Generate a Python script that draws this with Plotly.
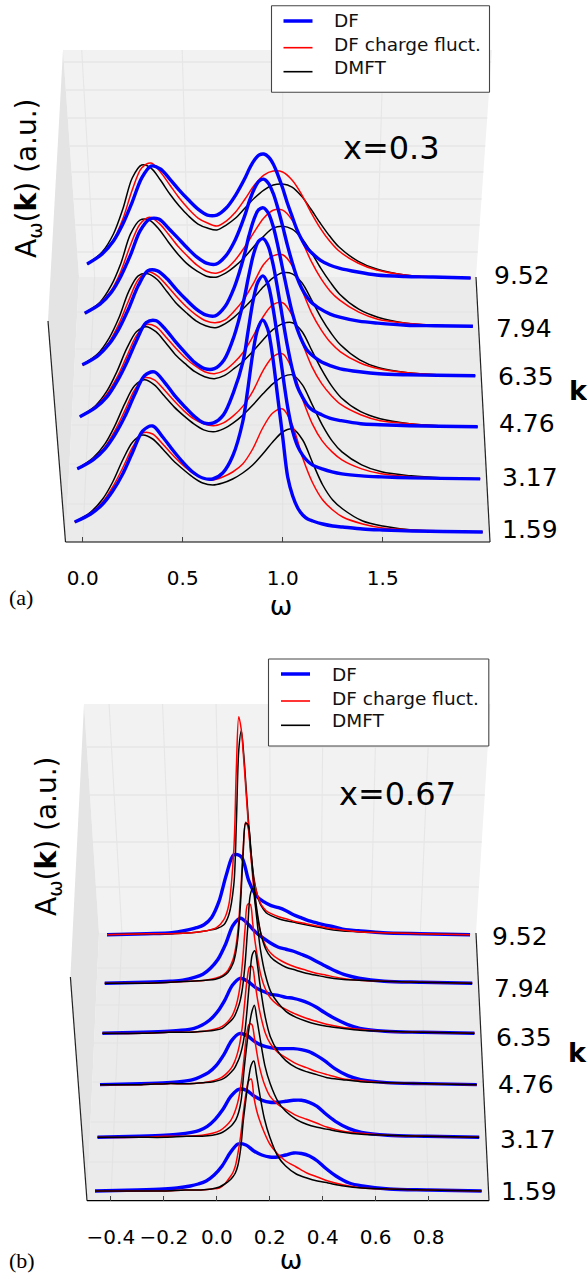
import plotly.graph_objects as go

K_VALUES = [1.59, 3.17, 4.76, 6.35, 7.94, 9.52]
K_LABELS = ["1.59", "3.17", "4.76", "6.35", "7.94", "9.52"]

OMEGA_A = [-0.04, 0.04, 0.1, 0.15, 0.2, 0.25, 0.3, 0.35, 0.4, 0.45, 0.5, 0.55,
           0.6, 0.65, 0.7, 0.75, 0.8, 0.85, 0.9, 0.95, 1.0, 1.05, 1.1, 1.15, 1.2, 1.25, 1.3, 1.4, 1.5, 1.65, 1.8, 2.0]
OMEGA_A_DF = [-0.04, 0.04, 0.1, 0.15, 0.2, 0.25, 0.3, 0.35, 0.4, 0.45, 0.5, 0.55, 0.6, 0.65, 0.7, 0.75,
              0.8, 0.825, 0.85, 0.875, 0.9, 0.925, 0.95, 0.975, 1.0, 1.025, 1.05, 1.075, 1.1, 1.125, 1.15, 1.2, 1.25,
              1.3, 1.4, 1.5, 1.65, 1.8, 2.0]

DF_A_159 = [10,18,28,41,58,80,101,106,95,82,70,60,54,53,59,76, 110,142,178,203,212,203,175,135,95,55,36,24,17,13,11,8,6,5,3,2,1,0.5,0]
DF_A_317 = [10,19,30,44,62,84,103,107,97,84,73,63,56,56,64,86, 118,148,178,197,203,195,172,140,105,72,48,33,24,18,14,10,7,5,3,2,1,0.5,0]
DF_A_476 = [10,19,30,45,64,86,104,106,97,85,74,64,58,58,67,90, 126,150,172,185,188,181,163,137,108,80,57,40,30,22,17,12,8,6,3,2,1,0.5,0]
DF_A_635 = [11,20,32,47,67,90,105,105,97,86,76,67,61,60,69,89, 120,140,156,166,168,163,150,130,107,84,63,47,35,26,21,14,10,7,4,2,1,0.5,0]
DF_A_794 = [13,22,34,50,71,95,107,107,98,88,78,69,63,62,70,86, 110,125,137,145,147,143,133,118,100,81,64,49,38,30,24,17,12,9,5,3,1,0.5,0]
DF_A_952 = [14,24,37,54,76,100,112,109,99,88,78,69,63,63,70,83, 100,110,118,123,124,121,114,103,90,75,62,49,39,31,26,18,13,10,6,3,1.5,1,0]

CF_A_159 = [10,19,30,45,64,85,99,98,88,77,67,59, 54,52,55,60,68,83,104,119,123,106,74,49,32,22,15,8,4,2,1,0]
CF_A_317 = [10,20,32,48,68,89,101,99,89,78,68,60, 55,53,56,63,73,88,108,122,125,109,80,55,38,27,19,10,5,2,1,0]
CF_A_476 = [10,20,33,49,70,91,102,100,90,79,69,61, 55,53,56,64,75,91,110,122,124,111,84,60,43,31,22,12,6,3,1,0]
CF_A_635 = [11,21,34,52,75,96,104,100,90,79,69,61, 55,53,56,65,77,93,111,120,121,110,86,63,46,33,24,13,7,3,1,0]
CF_A_794 = [13,23,36,55,81,102,109,103,92,80,70,61, 55,53,57,66,79,94,108,116,116,106,86,65,48,35,26,14,7,3,1,0]
CF_A_952 = [14,24,38,59,88,110,115,106,93,80,69,60, 55,52,57,66,79,93,103,107,106,98,84,66,50,37,27,15,8,3,1,0]

DMFT_A_159 = [10,20,33,50,72,90,97,93,83,72,63,55, 49,47,49,53,59,67,78,90,100,103,92,69,47,32,23,11,6,2,1,0]
DMFT_A_317 = [10,21,35,53,75,93,99,94,83,72,63,55, 49,47,50,56,64,74,85,95,102,104,94,74,54,38,27,14,7,3,1,0]
DMFT_A_476 = [10,21,36,55,78,95,100,95,84,72,63,55, 50,48,51,58,66,76,87,97,103,104,95,76,57,41,29,15,8,3,1,0]
DMFT_A_635 = [11,22,38,58,84,100,102,96,84,72,63,55, 50,48,52,59,68,78,89,98,103,102,93,76,58,43,31,16,8,3,1,0]
DMFT_A_794 = [13,24,41,63,92,106,106,97,84,72,62,55, 50,49,53,60,69,80,90,98,100,97,88,74,58,44,32,17,9,3,1,0]
DMFT_A_952 = [14,26,44,69,100,113,110,98,84,72,62,54, 50,48,53,60,70,80,88,93,94,91,82,69,55,42,31,17,9,3,1,0]

OMEGA_B = [-0.46, -0.3, -0.2, -0.12, -0.06, -0.02, 0.01, 0.03, 0.05, 0.06, 0.07, 0.08, 0.09, 0.10, 0.11, 0.12, 0.13,
           0.14, 0.15, 0.16, 0.18, 0.2, 0.23, 0.26, 0.3, 0.34, 0.38, 0.42, 0.48, 0.55, 0.65, 0.8, 1.0]
OMEGA_B_DF = [-0.46, -0.3, -0.2, -0.15, -0.1, -0.07, -0.04, -0.01, 0.02, 0.05, 0.08, 0.11, 0.14, 0.17, 0.2, 0.23, 0.26,
              0.29, 0.32, 0.35, 0.38, 0.41, 0.45, 0.5, 0.55, 0.65, 0.8, 1.0]

DF_B_159 = [0,1,2,3,5,7,10,16,25,38,47,46,40,36,34,34,36,38,37.5,35,30,23,15,8,5,2,1,0]
DF_B_317 = [0,1,2,3,5,7,11,18,28,41,48,47,41,37,35,35,36,37,37,35,31,24,16,9,5,2,1,0]
DF_B_476 = [0,1,2,3,5,8,12,19,30,44,51,49,43,39,37,36,36,36,35,33,29,24,16,9,5,2,1,0]
DF_B_635 = [0,1,2,3,5,8,13,21,33,48,55,52,46,42,39,38,36,35,33,30,26,21,15,9,5,2,1,0]
DF_B_794 = [0,1,2,3,6,9,15,24,39,58,65,59,51,45,40,36,34,32,29,26,22,18,13,8,5,2,1,0]
DF_B_952 = [0,1,2,4,7,10,17,33,60,80,78,54,39,33,29,27,24,20,17,14,12,10,8,5,4,2,1,0]

CF_B_159 = [0,0,0,1,1,2,3,7,14,18,25,38,55,78,97,110,112,94,81,72,58,47,37,30,24,18,14,10,6,3,2,1,0]
CF_B_317 = [0,0,1,1,2,4,7,11,17,22,29,39,55,78,102,113,113,100,84,70,52,41,33,28,22,18,14,10,6,4,2,1,0]
CF_B_476 = [0,0,1,1,2,4,7,11,17,22,29,39,55,80,105,118,118,103,86,72,52,41,32,27,21,17,13,10,6,4,2,1,0]
CF_B_635 = [0,0,1,1,2,4,7,11,18,24,33,47,72,105,129,129,110,90,74,60,44,35,28,24,19,15,12,9,6,4,2,1,0]
CF_B_794 = [0,0,1,2,3,5,8,13,24,35,55,90,135,161,155,130,100,78,62,50,37,30,24,20,16,13,10,8,5,3,2,1,0]
CF_B_952 = [0,1,1,2,4,7,15,30,85,165,218,205,175,140,105,76,55,44,36,30,24,21,18,16,13,11,9,7,5,3,2,1,0]

DMFT_B_159 = [0,0,0,1,1,2,4,7,11,14,18,26,42,70,92,112,126,130,116,100,72,54,35,25,17,13,10,8,5,3,2,1,0]
DMFT_B_317 = [0,0,0,1,1,2,4,7,11,14,18,25,38,66,90,110,125,132,118,102,72,54,36,26,18,13,10,8,5,3,2,1,0]
DMFT_B_476 = [0,0,1,1,2,3,5,8,13,16,21,27,36,50,75,105,130,134,120,100,68,48,33,24,17,13,10,7,5,3,2,1,0]
DMFT_B_635 = [0,0,1,1,2,3,5,9,14,18,24,32,46,70,105,138,145,128,105,84,58,42,30,22,16,12,9,7,5,3,2,1,0]
DMFT_B_794 = [0,0,1,2,3,4,7,11,20,30,48,82,130,160,158,135,106,82,64,50,34,26,20,16,13,10,8,6,4,3,2,1,0]
DMFT_B_952 = [0,1,1,2,4,6,10,20,50,110,185,204,180,145,110,80,58,44,35,29,22,19,16,14,12,10,8,6,4,3,2,1,0]

TICKS_A = [0.0, 0.5, 1.0, 1.5]
TICKS_B = [-0.4, -0.2, 0.0, 0.2, 0.4, 0.6, 0.8]
SERIES_NAMES = ["DF", "DF charge fluct.", "DMFT"]

W, H = 587, 1275
BLUE, RED, BLACK = "#0000ff", "#ff0000", "#000000"
BACK, FLOOR, SIDE = "#f2f2f2", "#ebebeb", "#e4e4e4"
GRID_B, GRID_F = "#e6e6e6", "#e3e3e3"
SANS = "DejaVu Sans"


def X(px):
    return px / W


def Y(py):
    return 1 - py / H


class Panel:
    def __init__(self, x0, s, wv, a, b, y_k0, y_front, dom_x, y_top, xaxis, yaxis):
        self.x0, self.s, self.wv, self.a, self.b = x0, s, wv, a, b
        self.y_k0, self.y_front, self.dom_x, self.y_top = y_k0, y_front, dom_x, y_top
        self.xaxis, self.yaxis = xaxis, yaxis

    def p(self, k):
        return 1 / (1 + self.b * (k - 1.59))

    def project(self, omegas, k, values):
        p = self.p(k)
        xs = [self.wv + (w - self.wv) * p for w in omegas]
        base = (self.y_front - self.y_k0) + self.a * (k - 1.59) * p
        ys = [base + v for v in values]
        return xs, ys

    def grid_x(self, w, p):
        return self.x0 + self.s * (self.wv + (w - self.wv) * p)


PA = Panel(82.7, 200.0, 0.994, 34.07, 0.00805, 532, 542, (46, 516), 0, "x", "y")
PB = Panel(216.8, 264.8, 0.284, 34.42, 0.00819, 1191, 1200.7, (60, 522), 640, "x2", "y2")

fig = go.Figure()
shapes, annotations = [], []


def poly(points, color, layer="below"):
    path = "M" + " L".join(f"{X(x):.5f},{Y(y):.5f}" for x, y in points) + " Z"
    shapes.append(dict(type="path", path=path, xref="paper", yref="paper", fillcolor=color,
                       line=dict(width=0), layer=layer))


def seg(p1, p2, color, width, layer="below"):
    shapes.append(dict(type="line", xref="paper", yref="paper", x0=X(p1[0]), y0=Y(p1[1]), x1=X(p2[0]), y1=Y(p2[1]),
                       line=dict(color=color, width=width), layer=layer))


def text(s, x, y, size, angle=0, family=SANS, anchor="center", color="#000000"):
    annotations.append(dict(text=s, x=X(x), y=Y(y), xref="paper", yref="paper", showarrow=False, xanchor=anchor,
                            yanchor="middle", textangle=angle, font=dict(size=size, family=family, color=color)))


def walls(tl, tr, bl, br, fl, fr, sl, back_rows, floor_rows, panel, ticks, ptop):
    poly([tl, tr, br, bl], BACK)
    poly([bl, br, fr, fl], FLOOR)
    poly([tl, bl, fl, sl], SIDE)
    for y in back_rows:
        t = (y - tl[1]) / (bl[1] - tl[1])
        seg((tl[0] + t * (bl[0] - tl[0]), y), (tr[0] + t * (br[0] - tr[0]), y), GRID_B, 1.3)
    for y in floor_rows:
        t = (y - bl[1]) / (fl[1] - bl[1])
        seg((bl[0] + t * (fl[0] - bl[0]), y), (br[0] + t * (fr[0] - br[0]), y), GRID_F, 1.1)
    pback = panel.p(9.52)
    for w in ticks:
        seg((panel.grid_x(w, ptop), tl[1]), (panel.grid_x(w, pback), bl[1]), GRID_B, 1.1)
        seg((panel.grid_x(w, pback), bl[1]), (panel.grid_x(w, 1.0), fl[1]), GRID_F, 1.1)
    seg(sl, fl, "#222222", 1.2)
    seg(fl, fr, "#000000", 1.2)
    seg(br, fr, "#222222", 1.2)


def legend(x0, y0, x1, y1, hx0, hx1, hy, tx, ty, widths):
    poly([(x0, y0), (x1, y0), (x1, y1), (x0, y1)], "#ffffff")
    for a, b in [((x0, y0), (x1, y0)), ((x1, y0), (x1, y1)), ((x1, y1), (x0, y1)), ((x0, y1), (x0, y0))]:
        seg(a, b, "#444444", 1.1)
    for name, yh, yt, col, lw in zip(SERIES_NAMES, hy, ty, (BLUE, RED, BLACK), widths):
        seg((hx0, yh), (hx1, yh), col, lw)
        text(name, tx, yt, 18.5, anchor="left", color="#111111")


def add_curves(panel, omegas, name, curves, color, width, ks=None):
    for k, vals in zip(K_VALUES, curves):
        if ks is not None and k not in ks:
            continue
        xs, ys = panel.project(omegas, k, vals)
        fig.add_trace(go.Scatter(x=xs, y=ys, mode="lines", name=name, showlegend=False, xaxis=panel.xaxis,
                                 yaxis=panel.yaxis, line=dict(color=color, width=width, shape="spline", smoothing=0.9)))


# panel (a)
walls((63, 50), (492, 50), (79, 277), (476, 277), (65.5, 542), (490, 542), (48, 321),
      [62, 90, 118, 146, 172, 199, 225, 252], [312, 349, 386, 425, 464, 504], PA, TICKS_A, 1.005)
legend(271.5, 5.7, 489.5, 92.3, 283.5, 312.5, (21, 47.7, 71.7), 332, (20.5, 44, 67.5), (3.5, 1.6, 1.6))
cf_a = [CF_A_159, CF_A_317, CF_A_476, CF_A_635, CF_A_794, CF_A_952]
dm_a = [DMFT_A_159, DMFT_A_317, DMFT_A_476, DMFT_A_635, DMFT_A_794, DMFT_A_952]
df_a = [DF_A_159, DF_A_317, DF_A_476, DF_A_635, DF_A_794, DF_A_952]
add_curves(PA, OMEGA_A, "DMFT", dm_a, BLACK, 1.5)
add_curves(PA, OMEGA_A, "DF charge fluct.", cf_a, RED, 1.5)
add_curves(PA, OMEGA_A_DF, "DF", df_a, BLUE, 3.4)

# panel (b)
walls((84, 704), (490.5, 704), (99, 933), (476, 933), (87, 1200.7), (489, 1200.7), (70.4, 977),
      [747, 795, 842, 887], [968, 1005, 1043, 1082, 1122, 1162], PB, TICKS_B, 1.01)
legend(268.5, 659, 488.8, 746, 281, 310, (674, 701, 725.3), 329.6, (674, 698, 720.7), (3.5, 1.6, 1.6))
cf_b = [CF_B_159, CF_B_317, CF_B_476, CF_B_635, CF_B_794, CF_B_952]
dm_b = [DMFT_B_159, DMFT_B_317, DMFT_B_476, DMFT_B_635, DMFT_B_794, DMFT_B_952]
df_b = [DF_B_159, DF_B_317, DF_B_476, DF_B_635, DF_B_794, DF_B_952]
add_curves(PB, OMEGA_B_DF, "DF", df_b, BLUE, 3.4)
add_curves(PB, OMEGA_B, "DMFT", dm_b, BLACK, 1.5, ks=[9.52])
add_curves(PB, OMEGA_B, "DF charge fluct.", cf_b, RED, 1.5)
add_curves(PB, OMEGA_B, "DMFT", dm_b, BLACK, 1.5, ks=K_VALUES[:5])

# text
text("x=0.3", 391, 148, 32)
text("x=0.67", 397, 794, 32)
for lab, x, y in zip(K_LABELS, (530, 530, 527, 526, 524, 522), (529, 477, 423, 376, 328, 275)):
    text(lab, x, y, 25)
for lab, x, y in zip(K_LABELS, (529, 528, 526, 524, 522, 520), (1191, 1139, 1084, 1037, 989, 936)):
    text(lab, x, y, 25)
text("<b>k</b>", 578, 391, 27)
text("<b>k</b>", 577, 1052, 27)
text("A<sub>ω</sub>(<b>k</b>) (a.u.)", 28, 178, 28, angle=-90)
text("A<sub>ω</sub>(<b>k</b>) (a.u.)", 48, 836, 28, angle=-90)
text("(a)", 21, 597, 22, family="Liberation Serif")
text("(b)", 22, 1260, 22, family="Liberation Serif")


def axis(panel, ticks, fmt):
    lo, hi = panel.dom_x
    return dict(domain=[X(lo), X(hi)], range=[(lo - panel.x0) / panel.s, (hi - panel.x0) / panel.s],
                tickmode="array", tickvals=ticks, tickformat=fmt, tickangle=0, ticks="inside", ticklen=5,
                tickcolor="#444444", tickwidth=1, showgrid=False, zeroline=False, showline=False,
                ticklabelstandoff=22, tickfont=dict(size=20, family=SANS, color="#000000"),
                title=dict(text="ω", standoff=1, font=dict(size=27, family=SANS, color="#000000")),
                automargin=False, fixedrange=True)


def yaxis(panel, anchor):
    return dict(domain=[Y(panel.y_front), Y(panel.y_top)], range=[0, panel.y_front - panel.y_top],
                visible=False, fixedrange=True, anchor=anchor, automargin=False)


fig.update_layout(
    width=W, height=H, margin=dict(l=0, r=0, t=0, b=0, pad=0), autosize=False,
    paper_bgcolor="#ffffff", plot_bgcolor="rgba(0,0,0,0)", showlegend=False,
    shapes=shapes, annotations=annotations,
    xaxis=dict(axis(PA, TICKS_A, ".1f"), anchor="y"),
    yaxis=yaxis(PA, "x"),
    xaxis2=dict(axis(PB, TICKS_B, ".1f"), anchor="y2"),
    yaxis2=yaxis(PB, "x2"),
)

fig.write_html("out.html", include_plotlyjs=True, default_width="587px", default_height="1275px",
               post_script="document.documentElement.style.overflow='hidden';"
                           "document.body.style.margin='0';document.body.style.overflow='hidden';"
                           "document.body.style.height='1275px';",
               config={"displayModeBar": False})
